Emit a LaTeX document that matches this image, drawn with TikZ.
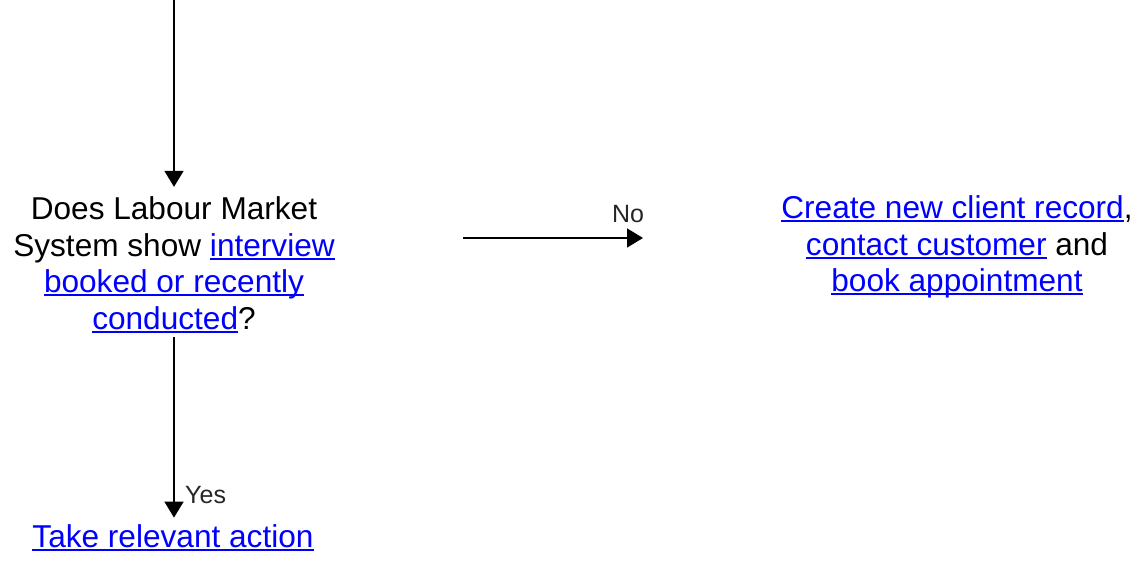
\documentclass[tikz,border=0pt]{standalone}
\usepackage{fontspec}
\setmainfont{Liberation Sans}
\usetikzlibrary{arrows.meta}
\definecolor{linkblue}{RGB}{0,0,255}
% hyperlink-style text: blue with a solid underline
\newcommand\lnk[1]{{\color{linkblue}\setbox0\hbox{#1}\rlap{\rule[-3.5pt]{\wd0}{2pt}}\box0}}
\begin{document}
\begin{tikzpicture}[x=1pt,y=-1pt,
  txt/.style={font=\fontsize{31.6}{36.5}\selectfont, align=center, inner sep=0pt},
  lbl/.style={font=\fontsize{25}{28}\selectfont, text=black!85, inner sep=0pt},
  flow/.style={-{Triangle[width=19pt,length=16pt]}, line width=1.6pt}]
\useasboundingbox (0,0) rectangle (1143,561);

\node[txt] (q) at (174,265) {Does Labour Market\\System show \lnk{interview}\\\lnk{booked or recently}\\\lnk{conducted}?};
\node[txt] (rec) at (957,247) {\lnk{Create new client record},\\\lnk{contact customer} and\\\lnk{book appointment}};
\node[txt] (act) at (173,538) {\lnk{Take relevant action}};

\coordinate (src) at (174,0);
\coordinate (n0) at (463,238);
\coordinate (n1) at (643,238);

\draw[flow] (src) -- ([yshift=10pt]q.north);
\draw[flow, shorten <=4pt] (q.south) -- ([yshift=7pt]q.south |- act.north);
\draw[flow] (n0) -- (n1);

\node[lbl, anchor=west] (yes) at (185,495) {Yes};
\node[lbl] (no) at (628,214) {No};
\end{tikzpicture}
\end{document}
